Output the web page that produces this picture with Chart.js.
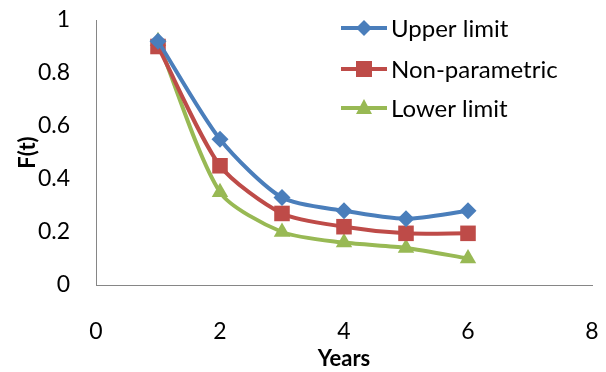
<!DOCTYPE html>
<html lang="en">
<head>
    <meta charset="UTF-8">
    <title>F(t) by Years</title>
    <script src="https://cdn.jsdelivr.net/npm/chart.js"></script>
    <style>
        html, body { margin: 0; padding: 0; background: #fff; }
        #wrap { width: 606px; height: 372px; }
    </style>
</head>
<body>
    <div id="wrap"><canvas id="ftChart"></canvas></div>

    <script>
        // data
        const years = [1, 2, 3, 4, 5, 6];
        const upperLimit = [0.92, 0.55, 0.33, 0.28, 0.25, 0.28];
        const nonParametric = [0.90, 0.45, 0.27, 0.22, 0.195, 0.195];
        const lowerLimit = [0.92, 0.35, 0.20, 0.16, 0.14, 0.10];
        const xTicks = [0, 2, 4, 6, 8];
        const yTicks = [0, 0.2, 0.4, 0.6, 0.8, 1];

        const FONT = 'Lato, "Liberation Sans", sans-serif';

        function pts(vals) {
            return years.map((x, i) => ({ x: x, y: vals[i] }));
        }

        // legend drawn inside the plot, top right
        const insideLegend = {
            id: 'insideLegend',
            afterDraw(chart) {
                const c = chart.ctx;
                const rows = [28, 69, 108];
                c.save();
                chart.data.datasets.forEach((ds, i) => {
                    const y = rows[i];
                    c.strokeStyle = ds.borderColor;
                    c.lineWidth = 4;
                    c.beginPath();
                    c.moveTo(341, y);
                    c.lineTo(387, y);
                    c.stroke();
                    c.fillStyle = ds.backgroundColor;
                    c.beginPath();
                    if (ds.pointStyle === 'rectRot') {
                        c.moveTo(364, y - 8); c.lineTo(372, y); c.lineTo(364, y + 8); c.lineTo(356, y);
                    } else if (ds.pointStyle === 'rect') {
                        c.rect(356, y - 8, 16, 16);
                    } else {
                        c.moveTo(364, y - 9); c.lineTo(372, y + 6); c.lineTo(356, y + 6);
                    }
                    c.closePath();
                    c.fill();
                    c.fillStyle = '#000';
                    c.font = '24px ' + FONT;
                    c.textBaseline = 'middle';
                    c.fillText(ds.label, 391, y + 1);
                });
                c.restore();
            }
        };

        new Chart(document.getElementById('ftChart'), {
            type: 'line',
            data: {
                datasets: [
                    {
                        label: 'Upper limit',
                        data: pts(upperLimit),
                        borderColor: '#4A7EBB',
                        backgroundColor: '#4A7EBB',
                        pointStyle: 'rectRot',
                        pointRadius: 8.5
                    },
                    {
                        label: 'Non-parametric',
                        data: pts(nonParametric),
                        borderColor: '#BE4B48',
                        backgroundColor: '#BE4B48',
                        pointStyle: 'rect',
                        pointRadius: 11
                    },
                    {
                        label: 'Lower limit',
                        data: pts(lowerLimit),
                        borderColor: '#98B954',
                        backgroundColor: '#98B954',
                        pointStyle: 'triangle',
                        pointRadius: 9.5
                    }
                ]
            },
            options: {
                responsive: true,
                maintainAspectRatio: false,
                animation: false,
                layout: { padding: { left: 0, right: 14, top: 20, bottom: 0 } },
                elements: {
                    line: { borderWidth: 4, tension: 0.25 },
                    point: { borderWidth: 0 }
                },
                plugins: {
                    legend: { display: false },
                    tooltip: { enabled: false }
                },
                scales: {
                    x: {
                        type: 'linear',
                        min: 0,
                        max: 8,
                        afterBuildTicks: (s) => { s.ticks = xTicks.map(v => ({ value: v })); },
                        afterFit: (s) => { s.height = 87; },
                        grid: { color: 'transparent', drawTicks: true, tickLength: 30 },
                        border: { color: '#868686', width: 1 },
                        ticks: { padding: 3, color: '#000', font: { family: FONT, size: 23 } },
                        title: {
                            display: true,
                            text: 'Years',
                            color: '#000',
                            padding: { top: 0, bottom: 0 },
                            font: { family: FONT, size: 22, weight: 'bold' }
                        }
                    },
                    y: {
                        min: 0,
                        max: 1,
                        afterBuildTicks: (s) => { s.ticks = yTicks.map(v => ({ value: v })); },
                        afterFit: (s) => { s.width = 96; },
                        grid: { color: 'transparent', drawTicks: true, tickLength: 22 },
                        border: { color: '#868686', width: 1 },
                        ticks: {
                            padding: 4,
                            color: '#000',
                            font: { family: FONT, size: 23 },
                            callback: (v) => String(v)
                        },
                        title: {
                            display: true,
                            text: 'F(t)',
                            color: '#000',
                            padding: { top: 15, bottom: 0 },
                            font: { family: FONT, size: 22, weight: 'bold' }
                        }
                    }
                }
            },
            plugins: [insideLegend]
        });
    </script>
</body>
</html>
